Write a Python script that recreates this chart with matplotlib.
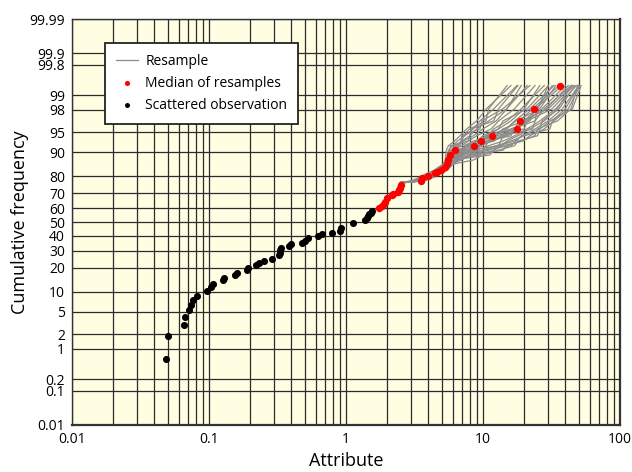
#!/usr/bin/env python3

from statistics import NormalDist

import numpy as np
import matplotlib
matplotlib.use('Agg')
import matplotlib.pyplot as plt

plt.rcParams['font.family'] = ['Open Sans', 'DejaVu Sans']

# Scattered observations (attribute, cumulative frequency in %).
obs_x = [0.0486, 0.0504, 0.0657, 0.067, 0.0718, 0.074, 0.076, 0.0814,
         0.096, 0.104, 0.107, 0.126, 0.129, 0.155, 0.16, 0.188, 0.193,
         0.22, 0.233, 0.25, 0.287, 0.326, 0.33, 0.33, 0.337, 0.385, 0.40,
         0.48, 0.50, 0.53, 0.628, 0.665, 0.787, 0.904, 0.92, 1.12, 1.38,
         1.42, 1.45, 1.48, 1.51, 1.54]
obs_p = [0.6, 1.8, 3.0, 4.1, 5.4, 6.4, 7.7, 8.8,
         10.2, 11.8, 12.8, 14.4, 15.2, 16.6, 17.7, 19.0, 19.8,
         21.5, 22.4, 23.9, 24.9, 27.3, 28.8, 30.4, 31.4, 33.0, 34.2,
         35.2, 36.5, 38.2, 40.1, 41.1, 42.3, 43.7, 45.4, 49.0, 51.5,
         53.0, 54.5, 55.5, 56.8, 58.2]

# Median of resamples.
med_x = [1.75, 1.82, 1.88, 1.93, 2.0, 2.15, 2.2, 2.4, 2.44, 2.47, 2.5,
         3.5, 3.6, 3.98, 4.47, 4.6, 4.97, 5.3, 5.5, 5.6, 5.75, 6.25,
         8.65, 9.6, 11.7, 17.8, 18.6, 23.4, 36.5]
med_p = [59.9, 61.5, 63.0, 64.5, 66.8, 68.9, 69.9, 71.0, 72.2, 73.1, 75.1,
         77.5, 78.8, 80.2, 81.7, 82.2, 82.9, 84.5, 85.5, 87.2, 89.0, 90.6,
         91.9, 93.1, 94.3, 95.6, 96.8, 98.1, 99.38]

# Resamples of the upper tail, all at the same plotting positions.
res_p = [76.5, 77.5, 78.8, 80.2, 81.7, 82.9, 84.5, 85.5, 87.2, 89.0,
         90.6, 91.9, 93.1, 94.3, 95.6, 96.8, 98.1, 99.38]
res_x = [
    [2.5, 3.0, 3.3, 3.6, 4.0, 4.4, 4.8, 5.1, 5.3, 5.35, 5.4, 5.6, 6.2, 6.8, 7.6, 9.0, 10.6, 16.0],
    [2.5, 3.1, 3.4, 3.7, 4.1, 4.5, 4.9, 5.2, 5.4, 5.5, 5.6, 6.0, 6.5, 7.4, 8.5, 9.5, 12.0, 17.7],
    [2.6, 3.2, 3.5, 3.9, 4.3, 4.7, 5.1, 5.3, 5.5, 5.6, 6.0, 6.6, 7.0, 8.0, 9.0, 11.0, 14.9, 21.0],
    [2.5, 3.4, 3.6, 4.0, 4.5, 4.9, 5.3, 5.5, 5.6, 5.8, 6.3, 8.5, 9.5, 11.5, 17.0, 18.5, 23.0, 36.0],
    [2.6, 3.5, 3.7, 4.1, 4.6, 5.0, 5.4, 5.6, 5.8, 6.2, 7.2, 8.0, 10.5, 12.5, 14.0, 20.0, 25.0, 30.0],
    [2.5, 3.3, 3.6, 4.0, 4.4, 5.0, 5.3, 5.5, 5.7, 6.0, 6.8, 7.5, 9.0, 10.0, 13.0, 16.0, 20.0, 26.0],
    [2.6, 3.6, 3.9, 4.3, 4.7, 5.2, 5.5, 5.7, 6.0, 6.5, 7.6, 9.5, 11.0, 13.5, 16.5, 21.0, 27.0, 40.0],
    [2.5, 3.5, 3.8, 4.2, 4.7, 5.1, 5.4, 5.6, 5.9, 6.3, 6.9, 7.3, 8.5, 12.0, 15.0, 17.0, 22.0, 33.0],
    [2.7, 3.4, 3.7, 4.0, 4.5, 5.0, 5.3, 5.5, 5.7, 6.1, 6.5, 8.2, 9.0, 10.8, 12.0, 15.0, 19.0, 28.0],
    [2.5, 3.7, 4.0, 4.4, 4.9, 5.3, 5.6, 5.8, 6.1, 6.8, 8.5, 9.2, 12.0, 14.0, 18.0, 19.0, 30.0, 45.0],
    [2.6, 3.7, 4.1, 4.5, 5.0, 5.4, 5.7, 5.9, 6.4, 8.0, 11.0, 13.0, 17.0, 19.5, 24.0, 30.0, 38.0, 50.0],
    [2.7, 3.8, 4.2, 4.6, 5.1, 5.5, 5.8, 6.0, 6.6, 9.0, 12.0, 14.0, 19.5, 22.0, 28.0, 33.0, 42.0, 51.0],
    [2.5, 3.6, 4.0, 4.4, 4.8, 5.3, 5.6, 5.9, 6.2, 7.0, 9.0, 11.0, 14.0, 17.0, 21.0, 26.0, 34.0, 48.0],
    [2.6, 3.6, 3.9, 4.3, 4.8, 5.2, 5.6, 5.75, 5.8, 11.2, 12.0, 13.5, 15.0, 18.0, 22.0, 28.0, 35.0, 44.0],
    [2.5, 3.5, 3.8, 4.3, 4.8, 5.2, 5.5, 5.7, 5.9, 7.5, 10.0, 12.5, 16.0, 20.0, 30.8, 32.0, 40.0, 50.0],
    [2.6, 3.3, 3.5, 3.9, 4.3, 4.8, 5.2, 5.4, 5.6, 5.8, 6.2, 7.0, 7.8, 9.0, 11.5, 13.0, 17.0, 24.0],
    [2.5, 3.2, 3.5, 3.8, 4.2, 4.6, 5.0, 5.3, 5.5, 5.7, 6.0, 6.4, 7.2, 8.5, 10.0, 12.5, 15.0, 19.0],
    [2.7, 3.5, 3.8, 4.2, 4.6, 5.1, 5.5, 5.7, 6.0, 6.6, 7.4, 8.8, 10.0, 11.0, 14.5, 17.5, 26.0, 34.0],
    [2.5, 3.4, 3.7, 4.1, 4.6, 5.0, 5.4, 5.6, 5.8, 6.4, 7.0, 8.0, 9.8, 12.0, 16.0, 22.0, 24.0, 38.0],
    [2.6, 3.6, 3.9, 4.2, 4.7, 5.1, 5.5, 5.8, 6.2, 7.0, 8.0, 10.0, 11.0, 15.0, 18.0, 20.0, 29.0, 42.0],
    [2.5, 3.4, 3.7, 4.1, 4.5, 5.0, 5.4, 5.6, 5.7, 9.5, 10.0, 16.0, 17.5, 19.0, 26.0, 27.0, 36.0, 47.0],
    [2.6, 3.5, 3.8, 4.2, 4.7, 5.1, 5.5, 5.8, 7.0, 8.0, 14.0, 15.0, 19.0, 24.0, 25.0, 35.0, 44.0, 49.0],
    [2.5, 3.3, 3.6, 4.0, 4.4, 4.9, 5.2, 5.4, 5.5, 5.6, 5.7, 5.8, 7.8, 8.0, 8.2, 12.0, 13.0, 18.0],
    [2.6, 3.2, 3.5, 3.8, 4.3, 4.7, 5.0, 5.2, 5.4, 5.5, 5.8, 6.8, 6.9, 7.0, 9.5, 9.8, 14.0, 22.0],
    [2.5, 3.6, 3.9, 4.4, 4.9, 5.3, 5.6, 5.8, 6.0, 6.2, 10.0, 10.5, 11.0, 16.0, 16.5, 24.0, 25.0, 32.0],
    [2.7, 3.5, 3.8, 4.1, 4.5, 5.0, 5.3, 5.5, 5.6, 7.0, 7.2, 7.4, 12.0, 12.5, 20.0, 21.0, 32.0, 46.0],
    [2.5, 3.4, 3.7, 4.2, 4.6, 5.0, 5.4, 5.7, 6.5, 6.7, 8.0, 13.0, 13.5, 14.0, 23.0, 24.0, 28.0, 44.0],
    [2.6, 3.3, 3.6, 3.9, 4.4, 4.8, 5.1, 5.3, 5.5, 5.6, 5.9, 6.2, 7.0, 7.2, 8.0, 10.5, 11.0, 15.0],
    [2.5, 3.7, 4.0, 4.4, 4.9, 5.4, 5.7, 6.0, 8.5, 10.0, 13.0, 17.0, 18.0, 25.0, 26.0, 31.0, 45.0, 52.0],
    [2.6, 3.5, 3.8, 4.2, 4.7, 5.1, 5.4, 5.6, 5.7, 6.0, 9.0, 9.5, 10.0, 10.5, 13.0, 14.0, 21.0, 30.0],
]

y_ticks = [0.01, 0.1, 0.2, 1, 2, 5, 10, 20, 30, 40, 50, 60, 70, 80, 90,
           95, 98, 99, 99.8, 99.9, 99.99]
y_tick_labels = ['0.01', '0.1', '0.2', '1', '2', '5', '10', '20', '30', '40',
                 '50', '60', '70', '80', '90', '95', '98', '99', '99.8',
                 '99.9', '99.99']
x_ticks = [0.01, 0.1, 1, 10, 100]
x_tick_labels = ['0.01', '0.1', '1', '10', '100']

_nd = NormalDist()
_ppf = np.vectorize(_nd.inv_cdf, otypes = [float])
_cdf = np.vectorize(_nd.cdf, otypes = [float])

def prob_forward(p):
    p = np.clip(np.asarray(p, dtype = float) / 100.0, 1e-9, 1 - 1e-9)
    return _ppf(p)

def prob_inverse(z):
    return _cdf(np.asarray(z, dtype = float)) * 100.0

def main():
    fig = plt.figure(figsize = (6.32, 4.72), dpi = 100)
    ax = fig.add_axes([0.1139, 0.0996, 0.8671, 0.8601])
    ax.set_facecolor('#fffde2')

    ax.set_xscale('log')
    ax.set_yscale('function', functions = (prob_forward, prob_inverse))
    ax.set_xlim(0.01, 100)
    ax.set_ylim(0.01, 99.99)

    # Grid: all decade subdivisions on x, every labelled level on y.
    minor_x = [m * 10.0 ** e for e in range(-2, 2) for m in range(1, 10)] + [100]
    for xv in minor_x:
        ax.axvline(xv, color = '#2b2b2b', lw = 0.9, zorder = 1)
    for yv in y_ticks:
        ax.axhline(yv, color = '#2b2b2b', lw = 0.9, zorder = 1)

    for i, rx in enumerate(res_x):
        ax.plot(rx, res_p, color = '#8c8c8c', lw = 0.9, zorder = 2,
                label = 'Resample' if i == 0 else None)

    ax.scatter(med_x, med_p, s = 28, color = 'red', lw = 0, zorder = 4,
               label = 'Median of resamples')
    ax.scatter(obs_x, obs_p, s = 26, color = 'black', lw = 0, zorder = 4,
               label = 'Scattered observation')

    ax.set_xticks(x_ticks)
    ax.set_xticklabels(x_tick_labels)
    ax.xaxis.set_minor_locator(matplotlib.ticker.NullLocator())
    ax.set_yticks(y_ticks)
    ax.set_yticklabels(y_tick_labels)
    ax.yaxis.set_minor_locator(matplotlib.ticker.NullLocator())
    ax.tick_params(length = 0, labelsize = 10, pad = 5)

    for side, spine in ax.spines.items():
        spine.set_color('#333333')
        spine.set_linewidth(1.6 if side in ('bottom', 'right') else 1.0)
        spine.set_zorder(5)

    ax.set_xlabel('Attribute', fontsize = 13, labelpad = 4)
    ax.set_ylabel('Cumulative frequency', fontsize = 13, labelpad = 0)

    leg = ax.legend(loc = 'upper left',
                    bbox_to_anchor = (0.060, 0.941),
                    borderaxespad = 0,
                    fontsize = 10,
                    fancybox = False,
                    framealpha = 1,
                    handlelength = 1.6,
                    handletextpad = 0.5,
                    labelspacing = 0.5,
                    borderpad = 0.8,
                    markerscale = 0.7)
    leg.get_frame().set_edgecolor('#222222')
    leg.get_frame().set_linewidth(1.3)
    leg.set_zorder(6)

    fig.savefig('out.png', dpi = 100)

if __name__ == "__main__":
    main()
